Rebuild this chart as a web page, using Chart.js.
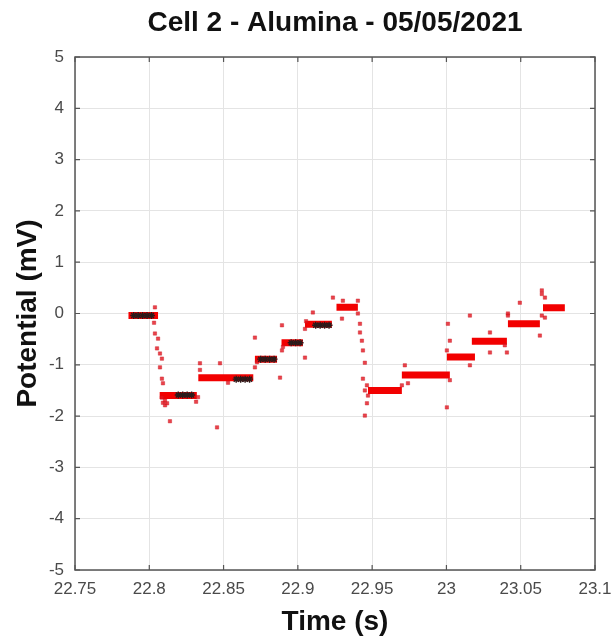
<!DOCTYPE html>
<html>
<head>
<meta charset="utf-8">
<script src="https://cdn.jsdelivr.net/npm/chart.js@4.4.1/dist/chart.umd.min.js"></script>
<style>
  html, body { margin: 0; padding: 0; background: #ffffff; }
  #wrap { width: 614px; height: 639px; position: relative; }
</style>
</head>
<body>
<div id="wrap"><canvas id="c" width="614" height="639"></canvas></div>
<script>
// ---------- data ----------
const chartTitle = 'Cell 2 - Alumina - 05/05/2021';
const xTitle = 'Time (s)';
const yTitle = 'Potential (mV)';

const xTickValues = [22.75, 22.8, 22.85, 22.9, 22.95, 23, 23.05, 23.1];
const xTickLabels = ['22.75', '22.8', '22.85', '22.9', '22.95', '23', '23.05', '23.1'];
const yTickValues = [-5, -4, -3, -2, -1, 0, 1, 2, 3, 4, 5];
const yTickLabels = ['-5', '-4', '-3', '-2', '-1', '0', '1', '2', '3', '4', '5'];

// plateaus (steps) of the potential
const stepStart = [22.786, 22.807, 22.833, 22.8711, 22.889, 22.9048, 22.926, 22.9472, 22.970, 23.0003, 23.0171, 23.0414, 23.0650];
const stepEnd   = [22.8059, 22.8320, 22.8700, 22.8860, 22.9034, 22.9229, 22.9404, 22.9700, 23.0023, 23.0192, 23.0407, 23.0629, 23.0797];
const stepLevel = [-0.04, -1.60, -1.25, -0.89, -0.57, -0.21, 0.12, -1.50, -1.20, -0.85, -0.54, -0.20, 0.11];

// scattered transient samples (red)
const transX = [
  22.8038, 22.8032, 22.8038, 22.8059, 22.8052, 22.8072, 22.8085, 22.8072, 22.8085, 22.8092, 22.8085, 22.8092, 22.8106, 22.8139, 22.8106, 22.8120,
  22.8341, 22.8341, 22.8328, 22.8476, 22.8456, 22.8530, 22.8315,
  22.8711, 22.8880, 22.8711, 22.8725,
  22.8893, 22.8893, 22.8900, 22.9048,
  22.9048, 22.9101, 22.9055,
  22.9236, 22.9303, 22.9297, 22.9404,
  22.9404, 22.9418, 22.9418, 22.9431, 22.9438, 22.9451, 22.9438, 22.9451, 22.9465, 22.9451, 22.9465, 22.9472,
  22.9720, 22.9741, 22.9700,
  23.0003, 23.0010, 23.0023, 23.0003, 23.0023,
  23.0158, 23.0158, 23.0293, 23.0293, 23.0407, 23.0414, 23.0393,
  23.0494, 23.0642, 23.0642, 23.0663, 23.0642, 23.0629, 23.0663, 23.0414
];
const transY = [
  0.12, -0.18, -0.39, -0.49, -0.68, -0.78, -0.88, -1.05, -1.27, -1.36, -1.64, -1.74, -1.79, -2.10, -1.70, -1.75,
  -0.97, -1.10, -1.63, -0.97, -2.22, -1.35, -1.72,
  -0.47, -1.25, -1.05, -0.95,
  -0.23, -0.72, -0.65, -0.86,
  -0.30, 0.02, -0.15,
  0.31, 0.25, -0.10, 0.25,
  0.00, -0.20, -0.37, -0.53, -0.72, -0.96, -1.27, -1.50, -1.75, -1.99, -1.40, -1.60,
  -1.01, -1.36, -1.40,
  -1.83, -0.20, -0.53, -0.72, -1.30,
  -0.04, -1.01, -0.37, -0.76, -0.76, 0.00, -0.62,
  0.21, 0.45, 0.38, 0.31, -0.04, -0.43, -0.08, -0.04
];

// black markers on some plateaus
const markX = [
  22.7895, 22.7925, 22.7955, 22.7985, 22.8015,
  22.8195, 22.8225, 22.8255, 22.8285,
  22.8585, 22.8615, 22.8645, 22.8675,
  22.8750, 22.8780, 22.8810, 22.8840,
  22.8955, 22.8985, 22.9015,
  22.9120, 22.9150, 22.9180, 22.9210
];
const markY = [
  -0.04, -0.04, -0.04, -0.04, -0.04,
  -1.59, -1.59, -1.59, -1.59,
  -1.28, -1.28, -1.28, -1.28,
  -0.89, -0.89, -0.89, -0.89,
  -0.57, -0.57, -0.57,
  -0.23, -0.23, -0.23, -0.23
];

// ---------- build datasets ----------
const stepData = [];
for (let i = 0; i < stepStart.length; i++) {
  stepData.push({ x: stepStart[i], y: stepLevel[i] });
  stepData.push({ x: stepEnd[i], y: stepLevel[i] });
  stepData.push({ x: stepEnd[i], y: null });
}
const transData = transX.map((x, i) => ({ x: x, y: transY[i] }));
const markData = markX.map((x, i) => ({ x: x, y: markY[i] }));

const FONT = "'Liberation Sans', Arial, Helvetica, sans-serif";

const frame = {
  id: 'frame',
  afterDatasetsDraw(chart) {
    const { ctx, chartArea: a, scales } = chart;
    ctx.save();
    ctx.strokeStyle = '#555555';
    ctx.lineWidth = 1.5;
    ctx.strokeRect(a.left, a.top, a.right - a.left, a.bottom - a.top);
    ctx.lineWidth = 1.2;
    scales.x.ticks.forEach(t => {
      const px = scales.x.getPixelForValue(t.value);
      ctx.beginPath();
      ctx.moveTo(px, a.bottom); ctx.lineTo(px, a.bottom - 5);
      ctx.moveTo(px, a.top); ctx.lineTo(px, a.top + 5);
      ctx.stroke();
    });
    scales.y.ticks.forEach(t => {
      const py = scales.y.getPixelForValue(t.value);
      ctx.beginPath();
      ctx.moveTo(a.left, py); ctx.lineTo(a.left + 5, py);
      ctx.moveTo(a.right, py); ctx.lineTo(a.right - 5, py);
      ctx.stroke();
    });
    ctx.restore();
  },
  afterDraw(chart) {
    const { ctx, chartArea: a } = chart;
    ctx.save();
    ctx.fillStyle = '#111111';
    ctx.font = "bold 28px " + FONT;
    ctx.textAlign = 'center';
    ctx.textBaseline = 'middle';
    ctx.fillText(chartTitle, (a.left + a.right) / 2, 23);
    ctx.restore();
  }
};

new Chart(document.getElementById('c'), {
  type: 'scatter',
  data: {
    datasets: [
      {
        label: 'steps',
        data: stepData,
        showLine: true,
        spanGaps: false,
        borderColor: '#f20000',
        borderWidth: 7,
        borderCapStyle: 'butt',
        pointRadius: 0,
        order: 3
      },
      {
        label: 'samples',
        data: transData,
        pointStyle: 'rect',
        pointRadius: 2.4,
        backgroundColor: 'rgba(228,20,30,0.8)',
        borderColor: 'rgba(200,20,30,0.8)',
        borderWidth: 0.5,
        order: 2
      },
      {
        label: 'markers',
        data: markData,
        pointStyle: 'star',
        pointRadius: 3.5,
        borderColor: '#2a1a1a',
        backgroundColor: '#2a1a1a',
        borderWidth: 1.4,
        order: 1
      }
    ]
  },
  options: {
    responsive: false,
    animation: false,
    layout: { padding: { top: 57, right: 0, left: 0, bottom: 0 } },
    plugins: {
      legend: { display: false },
      tooltip: { enabled: false },
      title: { display: false }
    },
    scales: {
      x: {
        type: 'linear',
        min: 22.75,
        max: 23.1,
        afterFit(s) { s.height = 69; s.paddingRight = 19; s.paddingLeft = 0; },
        afterBuildTicks(s) { s.ticks = xTickValues.map(v => ({ value: v })); },
        ticks: {
          autoSkip: false,
          maxRotation: 0,
          padding: 9,
          color: '#4a4a4a',
          font: { family: FONT, size: 17 },
          callback: (v, i) => xTickLabels[i]
        },
        grid: { color: '#e4e4e4', lineWidth: 1, drawTicks: false },
        border: { display: false },
        title: {
          display: true,
          text: xTitle,
          color: '#111111',
          font: { family: FONT, size: 28, weight: 'bold' },
          padding: { top: 0, bottom: 0 }
        }
      },
      y: {
        type: 'linear',
        min: -5,
        max: 5,
        afterFit(s) { s.width = 75; s.paddingTop = 0; s.paddingBottom = 0; },
        afterBuildTicks(s) { s.ticks = yTickValues.map(v => ({ value: v })); },
        ticks: {
          autoSkip: false,
          padding: 11,
          color: '#4a4a4a',
          font: { family: FONT, size: 17 },
          callback: (v, i) => yTickLabels[i]
        },
        grid: { color: '#e4e4e4', lineWidth: 1, drawTicks: false },
        border: { display: false },
        title: {
          display: true,
          text: yTitle,
          color: '#111111',
          font: { family: FONT, size: 28, weight: 'bold' },
          padding: { top: 11, bottom: 0 }
        }
      }
    }
  },
  plugins: [frame]
});
</script>
</body>
</html>
